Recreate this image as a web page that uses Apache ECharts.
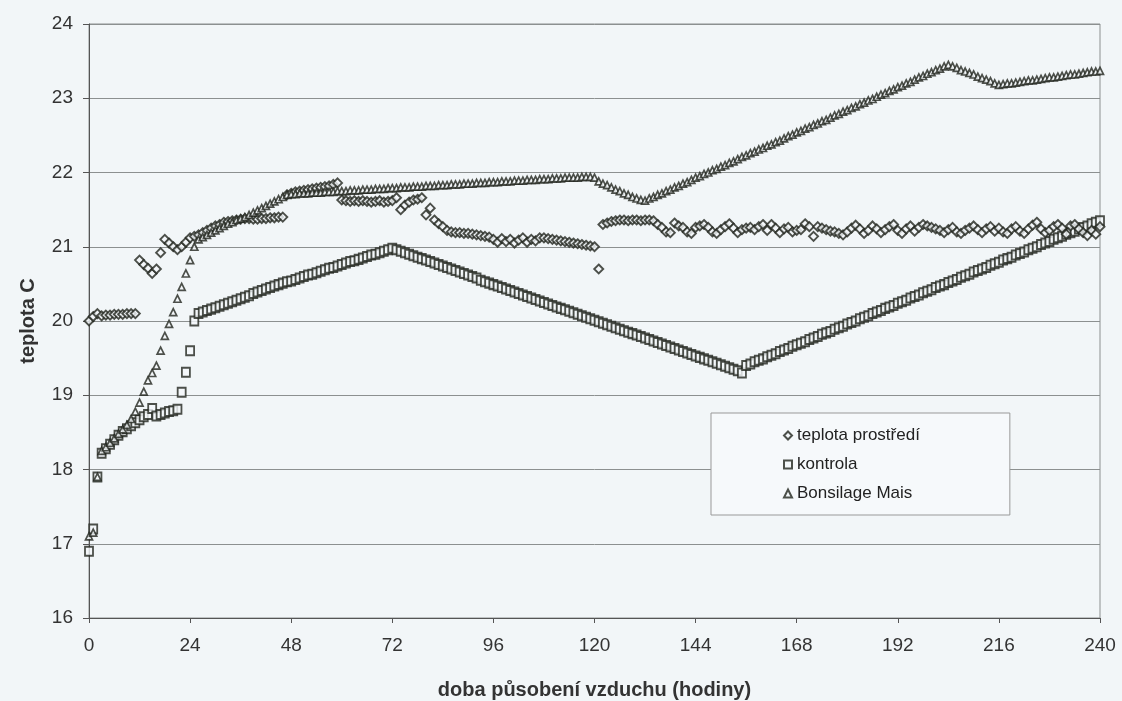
<!DOCTYPE html>
<html>
<head>
<meta charset="utf-8">
<script src="https://cdn.jsdelivr.net/npm/echarts@6/dist/echarts.min.js"></script>
<style>
html,body{margin:0;padding:0;background:#f2f6f8;}
#chart{width:1122px;height:701px;}
</style>
</head>
<body>
<div id="chart"></div>
<script>
const hours = [0,1,2,3,4,5,6,7,8,9,10,11,12,13,14,15,16,17,18,19,20,21,22,23,24,25,26,27,28,29,30,31,32,33,34,35,36,37,38,39,40,41,42,43,44,45,46,47,48,49,50,51,52,53,54,55,56,57,58,59,60,61,62,63,64,65,66,67,68,69,70,71,72,73,74,75,76,77,78,79,80,81,82,83,84,85,86,87,88,89,90,91,92,93,94,95,96,97,98,99,100,101,102,103,104,105,106,107,108,109,110,111,112,113,114,115,116,117,118,119,120,121,122,123,124,125,126,127,128,129,130,131,132,133,134,135,136,137,138,139,140,141,142,143,144,145,146,147,148,149,150,151,152,153,154,155,156,157,158,159,160,161,162,163,164,165,166,167,168,169,170,171,172,173,174,175,176,177,178,179,180,181,182,183,184,185,186,187,188,189,190,191,192,193,194,195,196,197,198,199,200,201,202,203,204,205,206,207,208,209,210,211,212,213,214,215,216,217,218,219,220,221,222,223,224,225,226,227,228,229,230,231,232,233,234,235,236,237,238,239,240];

const xTicks = [0,24,48,72,96,120,144,168,192,216,240];
const yTicks = [16,17,18,19,20,21,22,23,24];

const seriesNames = ['teplota prostředí','kontrola','Bonsilage Mais'];

// teplota prostředí
const teplota = [
20.00,20.06,20.10,20.07,20.08,20.08,20.09,20.09,20.09,20.10,20.10,20.10,
20.82,20.76,20.71,20.64,20.70,20.92,21.10,21.05,21.00,20.96,21.00,21.06,
21.12,21.14,21.16,21.19,21.22,21.25,21.28,21.30,21.33,21.34,21.35,21.36,
21.37,21.38,21.38,21.37,21.37,21.38,21.38,21.39,21.39,21.40,21.40,21.70,
21.72,21.74,21.75,21.76,21.77,21.78,21.79,21.80,21.81,21.82,21.84,21.86,
21.63,21.62,21.61,21.62,21.61,21.62,21.61,21.60,21.61,21.62,21.60,21.61,
21.62,21.66,21.50,21.56,21.60,21.63,21.64,21.66,21.43,21.52,21.36,21.31,
21.27,21.22,21.20,21.19,21.19,21.18,21.18,21.17,21.16,21.15,21.14,21.13,
21.10,21.06,21.11,21.07,21.10,21.05,21.09,21.12,21.06,21.10,21.08,21.12,
21.12,21.11,21.10,21.09,21.08,21.07,21.06,21.05,21.04,21.03,21.02,21.01,
21.00,20.70,21.30,21.32,21.34,21.35,21.36,21.36,21.35,21.36,21.36,21.35,
21.36,21.36,21.35,21.30,21.26,21.20,21.19,21.32,21.28,21.26,21.20,21.18,
21.26,21.28,21.30,21.26,21.20,21.18,21.23,21.27,21.31,21.25,21.19,21.23,
21.25,21.26,21.23,21.27,21.30,21.22,21.30,21.25,21.19,21.24,21.26,21.20,
21.22,21.23,21.31,21.27,21.14,21.27,21.25,21.23,21.21,21.20,21.18,21.16,
21.20,21.25,21.29,21.24,21.18,21.22,21.28,21.24,21.19,21.23,21.27,21.30,
21.22,21.18,21.24,21.28,21.21,21.26,21.30,21.28,21.26,21.24,21.22,21.19,
21.23,21.26,21.20,21.18,21.22,21.25,21.28,21.23,21.19,21.24,21.27,21.21,
21.25,21.20,21.18,21.24,21.27,21.21,21.18,21.24,21.29,21.33,21.24,21.19,
21.22,21.27,21.30,21.25,21.17,21.28,21.30,21.24,21.19,21.15,21.22,21.17,
21.27];

// kontrola
const kontrola = [
16.90,17.20,17.90,18.22,18.28,18.34,18.40,18.46,18.51,18.55,18.59,18.63,
18.67,18.71,18.74,18.82,18.72,18.74,18.76,18.78,18.79,18.81,19.04,19.31,
19.60,20.00,20.10,20.12,20.14,20.16,20.18,20.20,20.22,20.24,20.26,20.28,
20.30,20.32,20.34,20.37,20.39,20.41,20.43,20.45,20.47,20.49,20.51,20.53,
20.54,20.56,20.58,20.60,20.62,20.63,20.65,20.67,20.69,20.71,20.72,20.74,
20.76,20.78,20.80,20.81,20.83,20.85,20.87,20.89,20.90,20.92,20.94,20.96,
20.98,20.96,20.94,20.92,20.90,20.88,20.86,20.84,20.82,20.80,20.78,20.76,
20.74,20.72,20.70,20.68,20.66,20.64,20.62,20.60,20.58,20.55,20.53,20.51,
20.49,20.47,20.45,20.43,20.41,20.39,20.37,20.35,20.33,20.31,20.29,20.27,
20.25,20.23,20.21,20.19,20.17,20.15,20.13,20.11,20.09,20.07,20.05,20.03,
20.01,19.99,19.97,19.95,19.93,19.91,19.89,19.87,19.85,19.83,19.81,19.79,
19.77,19.75,19.73,19.71,19.69,19.67,19.65,19.63,19.61,19.59,19.57,19.55,
19.53,19.51,19.49,19.47,19.45,19.43,19.41,19.39,19.37,19.35,19.33,19.30,
19.40,19.42,19.45,19.47,19.49,19.52,19.54,19.56,19.59,19.61,19.63,19.66,
19.68,19.70,19.72,19.75,19.77,19.79,19.82,19.84,19.86,19.89,19.91,19.93,
19.96,19.98,20.00,20.03,20.05,20.07,20.10,20.12,20.14,20.17,20.19,20.21,
20.24,20.26,20.28,20.31,20.33,20.35,20.38,20.40,20.42,20.45,20.47,20.49,
20.52,20.54,20.56,20.59,20.61,20.63,20.66,20.68,20.70,20.72,20.75,20.77,
20.79,20.82,20.84,20.86,20.89,20.91,20.93,20.96,20.98,21.00,21.03,21.05,
21.07,21.10,21.12,21.14,21.17,21.19,21.21,21.24,21.26,21.28,21.31,21.33,
21.35];

// Bonsilage Mais
const bonsilage = [
17.10,17.15,17.90,18.25,18.30,18.36,18.42,18.48,18.54,18.60,18.68,18.78,
18.90,19.05,19.20,19.30,19.40,19.60,19.80,19.96,20.12,20.30,20.46,20.64,
20.82,21.00,21.10,21.13,21.16,21.19,21.22,21.25,21.28,21.31,21.33,21.36,
21.38,21.40,21.43,21.46,21.49,21.52,21.55,21.58,21.61,21.64,21.67,21.70,
21.71,21.71,21.72,21.72,21.72,21.73,21.73,21.73,21.74,21.74,21.74,21.75,
21.75,21.75,21.76,21.76,21.76,21.77,21.77,21.77,21.78,21.78,21.78,21.79,
21.79,21.79,21.80,21.80,21.80,21.81,21.81,21.81,21.82,21.82,21.82,21.83,
21.83,21.83,21.84,21.84,21.84,21.85,21.85,21.85,21.86,21.86,21.86,21.87,
21.87,21.87,21.88,21.88,21.88,21.89,21.89,21.89,21.90,21.90,21.90,21.91,
21.91,21.91,21.92,21.92,21.92,21.93,21.93,21.93,21.93,21.94,21.94,21.94,
21.93,21.88,21.85,21.83,21.80,21.77,21.75,21.72,21.70,21.67,21.65,21.63,
21.62,21.65,21.67,21.70,21.72,21.75,21.77,21.80,21.82,21.85,21.87,21.90,
21.93,21.95,21.98,22.00,22.03,22.05,22.08,22.10,22.13,22.15,22.18,22.21,
22.23,22.26,22.28,22.31,22.33,22.36,22.38,22.41,22.43,22.46,22.49,22.51,
22.54,22.56,22.59,22.61,22.64,22.66,22.69,22.71,22.74,22.77,22.79,22.82,
22.84,22.87,22.89,22.92,22.94,22.97,22.99,23.02,23.05,23.07,23.10,23.12,
23.15,23.17,23.20,23.22,23.25,23.28,23.30,23.33,23.35,23.38,23.40,23.43,
23.45,23.43,23.41,23.38,23.36,23.34,23.32,23.29,23.27,23.25,23.23,23.20,
23.18,23.19,23.20,23.20,23.21,23.22,23.23,23.24,23.24,23.25,23.26,23.27,
23.28,23.28,23.29,23.30,23.31,23.32,23.32,23.33,23.34,23.35,23.36,23.36,
23.37];

const ink = '#22261e';
const fill = '#f4f8fa';
const font = 'Liberation Sans, Arial, sans-serif';

function pairs(vals){ return hours.map((h,i)=>[h, vals[i]]); }

const chart = echarts.init(document.getElementById('chart'), null, {renderer:'canvas'});
chart.setOption({
  backgroundColor: '#f2f6f8',
  animation: false,
  grid: {left: 89, right: 22, top: 24, bottom: 83, show: true, borderColor: '#8c9090', borderWidth: 1,
         containLabel: false, outerBoundsMode: 'none'},
  xAxis: {
    type: 'value', min: xTicks[0], max: xTicks[xTicks.length-1], interval: 24,
    name: 'doba působení vzduchu (hodiny)', nameLocation: 'middle', nameGap: 62,
    nameTextStyle: {fontFamily: font, fontSize: 20, fontWeight: 'bold', color: '#333'},
    axisLine: {show: true, lineStyle: {color: '#555', width: 1}},
    axisTick: {show: true, length: 5, lineStyle: {color: '#555'}},
    axisLabel: {fontFamily: font, fontSize: 19, color: '#333', margin: 18},
    splitLine: {show: false}
  },
  yAxis: {
    type: 'value', min: yTicks[0], max: yTicks[yTicks.length-1], interval: 1,
    name: 'teplota C', nameLocation: 'middle', nameGap: 51, nameRotate: 90,
    nameTextStyle: {fontFamily: font, fontSize: 20, fontWeight: 'bold', color: '#333'},
    axisLine: {show: true, lineStyle: {color: '#555', width: 1}},
    axisTick: {show: true, length: 6, lineStyle: {color: '#555'}},
    axisLabel: {fontFamily: font, fontSize: 19, color: '#333', margin: 16},
    splitLine: {show: true, lineStyle: {color: '#8c9090', width: 1}}
  },
  legend: {
    orient: 'vertical', left: 711, top: 413,
    backgroundColor: '#f6f9fb', borderColor: '#999', borderWidth: 1, borderRadius: 0,
    padding: [14, 90, 13, 72], itemGap: 12, itemWidth: 8, itemHeight: 8,
    textStyle: {fontFamily: font, fontSize: 17, color: '#222'},
    data: seriesNames
  },
  series: [
    {name: seriesNames[0], type: 'scatter', symbol: 'diamond', symbolSize: 9,
     itemStyle: {color: fill, borderColor: ink, borderWidth: 1.9}, data: pairs(teplota), z: 3},
    {name: seriesNames[1], type: 'scatter', symbol: 'rect', symbolSize: [8,9],
     itemStyle: {color: fill, borderColor: ink, borderWidth: 1.9}, data: pairs(kontrola), z: 2},
    {name: seriesNames[2], type: 'scatter', symbol: 'triangle', symbolSize: 7,
     itemStyle: {color: fill, borderColor: ink, borderWidth: 1.7}, data: pairs(bonsilage), z: 4}
  ]
});
</script>
</body>
</html>
